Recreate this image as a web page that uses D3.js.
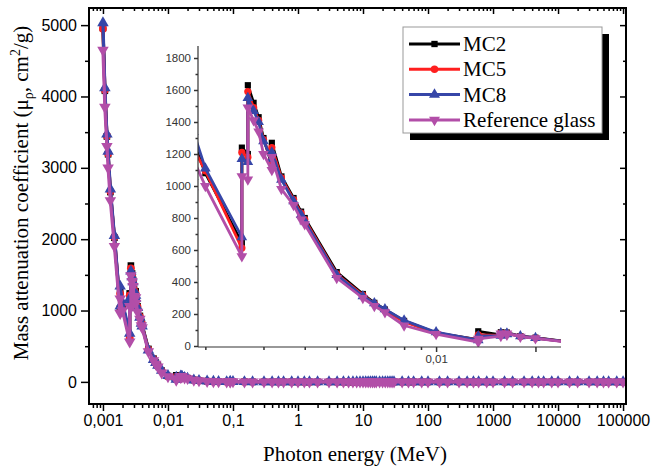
<!DOCTYPE html>
<html>
<head>
<meta charset="utf-8">
<script src="https://cdn.jsdelivr.net/npm/d3@7"></script>
<style>
body { margin: 0; background: #fff; }
</style>
</head>
<body>
<div id="chart"></div>
<script>
// photon energies in MeV (edge energies appear twice: before / after the jump)
var energy = [
	0.001, 0.00107, 0.00115, 0.0012, 0.0013, 0.0015, 0.00184, 0.00184, 0.002, 0.00258,
	0.00258, 0.00269, 0.00269, 0.0028, 0.0029, 0.003, 0.00318, 0.00318, 0.0034, 0.0037,
	0.0039, 0.004, 0.005, 0.006, 0.0065, 0.007, 0.008, 0.01, 0.01342, 0.01342,
	0.01571, 0.01571, 0.01639, 0.01639, 0.018, 0.02, 0.025, 0.03, 0.04, 0.05,
	0.06, 0.08, 0.0905, 0.0905, 0.1, 0.15, 0.2, 0.3, 0.4, 0.5,
	0.6, 0.8, 1, 1.25, 1.5, 2, 3, 4, 5, 6,
	7, 8, 9, 10, 11, 12, 13, 14, 15, 16,
	18, 20, 22, 24, 26, 28, 30, 40, 50, 60,
	80, 100, 150, 200, 300, 400, 500, 600, 800, 1000,
	1500, 2000, 3000, 4000, 5000, 6000, 8000, 10000, 15000, 20000,
	30000, 40000, 50000, 60000, 80000, 100000
];

var mc2 = [
	4960, 4080, 3440, 3190, 2660, 2020, 1030, 1275, 1080, 645,
	1240, 1200, 1630, 1520, 1430, 1300, 1130, 1270, 1060, 925,
	840, 800, 462, 325, 270, 228, 157, 82, 40, 92,
	70, 86, 80, 84, 62, 52, 27, 20.5, 9.9, 5.7,
	3.7, 1.8, 1.35, 5.3, 4.15, 1.48, 0.74, 0.31, 0.19, 0.135,
	0.108, 0.082, 0.068, 0.058, 0.052, 0.045, 0.041, 0.040, 0.040, 0.041,
	0.042, 0.043, 0.044, 0.045, 0.046, 0.047, 0.048, 0.049, 0.050, 0.051,
	0.052, 0.054, 0.055, 0.056, 0.057, 0.058, 0.059, 0.063, 0.065, 0.067,
	0.070, 0.072, 0.075, 0.077, 0.079, 0.080, 0.081, 0.081, 0.082, 0.082,
	0.083, 0.083, 0.084, 0.084, 0.084, 0.084, 0.085, 0.085, 0.085, 0.085,
	0.085, 0.085, 0.085, 0.085, 0.085, 0.085
];

var mc5 = [
	4950, 4090, 3450, 3200, 2670, 2030, 1040, 1235, 1095, 612,
	1210, 1180, 1590, 1490, 1410, 1290, 1160, 1240, 1050, 915,
	830, 790, 450, 318, 265, 222, 152, 80, 38, 70,
	66, 82, 76, 80, 60, 50, 26, 19.8, 9.6, 5.5,
	3.6, 1.74, 1.3, 5.0, 3.95, 1.42, 0.71, 0.30, 0.185, 0.132,
	0.106, 0.081, 0.067, 0.057, 0.051, 0.045, 0.041, 0.040, 0.040, 0.040,
	0.041, 0.042, 0.043, 0.044, 0.045, 0.046, 0.047, 0.048, 0.049, 0.050,
	0.051, 0.053, 0.054, 0.055, 0.056, 0.057, 0.058, 0.062, 0.064, 0.066,
	0.069, 0.071, 0.074, 0.076, 0.078, 0.079, 0.080, 0.080, 0.081, 0.081,
	0.082, 0.082, 0.083, 0.083, 0.083, 0.083, 0.084, 0.084, 0.084, 0.084,
	0.084, 0.084, 0.084, 0.084, 0.084, 0.084
];

var mc8 = [
	5030, 4120, 3470, 3230, 2700, 2050, 1060, 1340, 1110, 680,
	1170, 1150, 1550, 1470, 1400, 1280, 1170, 1210, 1040, 905,
	820, 780, 445, 312, 268, 230, 160, 86, 36, 62,
	64, 80, 74, 78, 61, 50, 25, 19.1, 9.3, 5.3,
	3.5, 1.68, 1.26, 4.7, 3.75, 1.36, 0.68, 0.29, 0.18, 0.129,
	0.104, 0.080, 0.066, 0.057, 0.051, 0.044, 0.040, 0.039, 0.039, 0.040,
	0.041, 0.042, 0.043, 0.043, 0.044, 0.045, 0.046, 0.047, 0.048, 0.049,
	0.050, 0.052, 0.053, 0.054, 0.055, 0.056, 0.057, 0.061, 0.063, 0.065,
	0.068, 0.070, 0.073, 0.075, 0.077, 0.078, 0.079, 0.079, 0.080, 0.080,
	0.081, 0.081, 0.082, 0.082, 0.082, 0.082, 0.083, 0.083, 0.083, 0.083,
	0.083, 0.083, 0.083, 0.083, 0.083, 0.083
];

var refGlass = [
	4650, 3850, 3300, 3000, 2540, 1900, 960, 1165, 1000, 560,
	1060, 1040, 1490, 1410, 1340, 1200, 1100, 1180, 980, 880,
	790, 760, 425, 300, 250, 210, 128, 74, 25, 45,
	62, 78, 70, 78, 58, 48, 24, 18.2, 8.8, 5.0,
	3.3, 1.6, 1.2, 4.4, 3.5, 1.28, 0.65, 0.28, 0.175, 0.126,
	0.102, 0.079, 0.065, 0.056, 0.050, 0.044, 0.040, 0.039, 0.039, 0.039,
	0.040, 0.041, 0.042, 0.043, 0.044, 0.045, 0.046, 0.046, 0.047, 0.048,
	0.049, 0.051, 0.052, 0.053, 0.054, 0.055, 0.056, 0.060, 0.062, 0.064,
	0.067, 0.069, 0.072, 0.074, 0.076, 0.077, 0.078, 0.078, 0.079, 0.079,
	0.080, 0.080, 0.081, 0.081, 0.081, 0.081, 0.082, 0.082, 0.082, 0.082,
	0.082, 0.082, 0.082, 0.082, 0.082, 0.082
];

var seriesNames = ["MC2", "MC5", "MC8", "Reference glass"];

var xTicks = [0.001, 0.01, 0.1, 1, 10, 100, 1000, 10000, 100000];
var xTickLabels = ["0,001", "0,01", "0,1", "1", "10", "100", "1000", "10000", "100000"];
var yTicks = [0, 1000, 2000, 3000, 4000, 5000];
var insetYTicks = [0, 200, 400, 600, 800, 1000, 1200, 1400, 1600, 1800];
var insetXTicks = [0.01, 0.02];
var insetXTickLabels = ["0,01", ""];

var serif = "'Liberation Serif', 'Times New Roman', serif";
var sans = "'Liberation Sans', Arial, sans-serif";

var series = [
	{name: seriesNames[0], values: mc2, color: "#000000", symbol: d3.symbolSquare, size: 40, rot: 0},
	{name: seriesNames[1], values: mc5, color: "#ff1f1f", symbol: d3.symbolCircle, size: 44, rot: 0},
	{name: seriesNames[2], values: mc8, color: "#3646a8", symbol: d3.symbolTriangle, size: 52, rot: 0},
	{name: seriesNames[3], values: refGlass, color: "#b24ea8", symbol: d3.symbolTriangle, size: 52, rot: 180}
];
series.forEach(function(s) {
	s.points = energy.map(function(e, i) { return [e, s.values[i]]; });
});

var svg = d3.select("#chart").append("svg")
	.attr("width", 652)
	.attr("height", 471);

var plot = {left: 89, right: 626, top: 8, bottom: 404};

var x = d3.scaleLog().domain([0.00061, 111000]).range([plot.left, plot.right]);
var y = d3.scaleLinear().domain([-310, 5240]).range([plot.bottom, plot.top]);

// minor tick values for the log axis
var xMinor = [];
for (var d = -4; d <= 5; d++) {
	for (var k = 2; k <= 9; k++) {
		var v = k * Math.pow(10, d);
		if (v > 0.00061 && v < 111000) xMinor.push(+v.toPrecision(3));
	}
}
var yMinor = [500, 1500, 2500, 3500, 4500];

function styleAxis(g, fontSize, color) {
	g.select(".domain").remove();
	g.selectAll("line").attr("stroke", color).attr("stroke-width", 1.5);
	g.selectAll("text").attr("font-family", sans).attr("font-size", fontSize).attr("fill", color);
}

// bottom axis
svg.append("g")
	.attr("transform", "translate(0," + plot.bottom + ")")
	.call(d3.axisBottom(x).tickValues(xTicks).tickFormat(function(d, i) { return xTickLabels[i]; })
		.tickSize(7).tickSizeOuter(0).tickPadding(4))
	.call(styleAxis, 16, "#000");
svg.append("g")
	.attr("transform", "translate(0," + plot.bottom + ")")
	.call(d3.axisBottom(x).tickValues(xMinor).tickFormat("").tickSize(4).tickSizeOuter(0))
	.call(styleAxis, 16, "#000");

// top axis (mirror, inward)
svg.append("g")
	.attr("transform", "translate(0," + plot.top + ")")
	.call(d3.axisTop(x).tickValues(xTicks).tickFormat("").tickSize(-6).tickSizeOuter(0))
	.call(styleAxis, 16, "#000");
svg.append("g")
	.attr("transform", "translate(0," + plot.top + ")")
	.call(d3.axisTop(x).tickValues(xMinor).tickFormat("").tickSize(-3).tickSizeOuter(0))
	.call(styleAxis, 16, "#000");

// left axis
svg.append("g")
	.attr("transform", "translate(" + plot.left + ",0)")
	.call(d3.axisLeft(y).tickValues(yTicks).tickFormat(d3.format("d")).tickSize(8).tickSizeOuter(0).tickPadding(4))
	.call(styleAxis, 16, "#000");
svg.append("g")
	.attr("transform", "translate(" + plot.left + ",0)")
	.call(d3.axisLeft(y).tickValues(yMinor).tickFormat("").tickSize(4).tickSizeOuter(0))
	.call(styleAxis, 16, "#000");

// right axis (mirror, inward)
svg.append("g")
	.attr("transform", "translate(" + plot.right + ",0)")
	.call(d3.axisRight(y).tickValues(yTicks).tickFormat("").tickSize(-6).tickSizeOuter(0))
	.call(styleAxis, 16, "#000");
svg.append("g")
	.attr("transform", "translate(" + plot.right + ",0)")
	.call(d3.axisRight(y).tickValues(yMinor).tickFormat("").tickSize(-3).tickSizeOuter(0))
	.call(styleAxis, 16, "#000");

// clip paths
var defs = svg.append("defs");
defs.append("clipPath").attr("id", "clipMain").append("rect")
	.attr("x", plot.left).attr("y", plot.top)
	.attr("width", plot.right - plot.left).attr("height", plot.bottom - plot.top);

function drawSeries(g, xs, ys, lineWidth, markerScale) {
	var line = d3.line()
		.x(function(p) { return xs(p[0]); })
		.y(function(p) { return ys(p[1]); });
	series.forEach(function(s) {
		var sg = g.append("g");
		sg.append("path")
			.datum(s.points)
			.attr("fill", "none")
			.attr("stroke", s.color)
			.attr("stroke-width", lineWidth)
			.attr("stroke-linejoin", "round")
			.attr("d", line);
		sg.selectAll("path.mk")
			.data(s.points)
			.enter().append("path")
			.attr("class", "mk")
			.attr("fill", s.color)
			.attr("d", d3.symbol().type(s.symbol).size(s.size * markerScale))
			.attr("transform", function(p) {
				return "translate(" + xs(p[0]) + "," + ys(p[1]) + ") rotate(" + s.rot + ")";
			});
	});
}

var mainData = svg.append("g").attr("clip-path", "url(#clipMain)");
drawSeries(mainData, x, y, 3.2, 1.1);

// frame
svg.append("rect")
	.attr("x", plot.left).attr("y", plot.top)
	.attr("width", plot.right - plot.left).attr("height", plot.bottom - plot.top)
	.attr("fill", "none").attr("stroke", "#000").attr("stroke-width", 2);

// ---- inset ----
var inset = {left: 198, right: 561, top: 46, bottom: 347};
var xi = d3.scaleLog().domain([0.0019, 0.0239]).range([inset.left, inset.right]);
var yi = d3.scaleLinear().domain([0, 1875]).range([346, inset.top]);

var insetMinor = [];
for (var m = 2; m <= 9; m++) insetMinor.push(m / 1000);
var insetYMinor = [];
for (var n = 100; n <= 1800; n += 200) insetYMinor.push(n);

defs.append("clipPath").attr("id", "clipInset").append("rect")
	.attr("x", inset.left).attr("y", inset.top)
	.attr("width", inset.right - inset.left).attr("height", inset.bottom - inset.top);

var insetData = svg.append("g").attr("clip-path", "url(#clipInset)");
drawSeries(insetData, xi, yi, 2.8, 0.95);

svg.append("g")
	.attr("transform", "translate(" + inset.left + ",0)")
	.call(d3.axisLeft(yi).tickValues(insetYTicks).tickFormat(d3.format("d")).tickSize(4).tickSizeOuter(0).tickPadding(3))
	.call(styleAxis, 11.5, "#333");
svg.append("g")
	.attr("transform", "translate(" + inset.left + ",0)")
	.call(d3.axisLeft(yi).tickValues(insetYMinor).tickFormat("").tickSize(2.5).tickSizeOuter(0))
	.call(styleAxis, 11.5, "#333");
svg.append("g")
	.attr("transform", "translate(0," + inset.bottom + ")")
	.call(d3.axisBottom(xi).tickValues(insetXTicks).tickFormat(function(d, i) { return insetXTickLabels[i]; })
		.tickSize(5).tickSizeOuter(0).tickPadding(3))
	.call(styleAxis, 11.5, "#333");
svg.append("g")
	.attr("transform", "translate(0," + inset.bottom + ")")
	.call(d3.axisBottom(xi).tickValues(insetMinor).tickFormat("").tickSize(3).tickSizeOuter(0))
	.call(styleAxis, 11.5, "#333");

svg.append("line")
	.attr("x1", inset.left).attr("x2", inset.left)
	.attr("y1", inset.top).attr("y2", inset.bottom)
	.attr("stroke", "#333").attr("stroke-width", 1.2);
svg.append("line")
	.attr("x1", inset.left).attr("x2", inset.right)
	.attr("y1", inset.bottom).attr("y2", inset.bottom)
	.attr("stroke", "#333").attr("stroke-width", 1.2);

// ---- axis titles ----
svg.append("text")
	.attr("x", 355).attr("y", 461)
	.attr("text-anchor", "middle")
	.attr("font-family", serif).attr("font-size", 21)
	.text("Photon energy (MeV)");

var yTitle = svg.append("text")
	.attr("transform", "translate(28,193) rotate(-90)")
	.attr("text-anchor", "middle")
	.attr("font-family", serif).attr("font-size", 21);
yTitle.append("tspan").text("Mass attenuation coefficient (\u03bc");
yTitle.append("tspan").attr("dy", 5).attr("font-size", 14).text("\u03c1");
yTitle.append("tspan").attr("dy", -5).text(", cm");
yTitle.append("tspan").attr("dy", -8).attr("font-size", 14).text("2");
yTitle.append("tspan").attr("dy", 8).text("/g)");

// ---- legend ----
var leg = {x: 403, y: 27, w: 199, h: 106};
svg.append("rect")
	.attr("x", leg.x + 7).attr("y", leg.y + 7)
	.attr("width", leg.w).attr("height", leg.h)
	.attr("fill", "#000");
svg.append("rect")
	.attr("x", leg.x).attr("y", leg.y)
	.attr("width", leg.w).attr("height", leg.h)
	.attr("fill", "#fff").attr("stroke", "#999").attr("stroke-width", 1);

series.forEach(function(s, i) {
	var cy = leg.y + 17 + i * 25.3;
	svg.append("line")
		.attr("x1", leg.x + 6).attr("x2", leg.x + 57)
		.attr("y1", cy).attr("y2", cy)
		.attr("stroke", s.color).attr("stroke-width", 3);
	svg.append("path")
		.attr("fill", s.color)
		.attr("d", d3.symbol().type(s.symbol).size(s.size)())
		.attr("transform", "translate(" + (leg.x + 31.5) + "," + cy + ") rotate(" + s.rot + ")");
	svg.append("text")
		.attr("x", leg.x + 60).attr("y", cy + 7)
		.attr("font-family", serif).attr("font-size", 21)
		.text(s.name);
});
</script>
</body>
</html>
